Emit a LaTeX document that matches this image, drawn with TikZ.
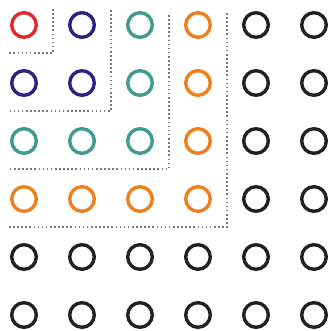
\documentclass[tikz,border=0pt]{standalone}
\usetikzlibrary{calc}
\definecolor{ringred}{HTML}{E0282A}
\definecolor{ringnavy}{HTML}{2B2183}
\definecolor{ringteal}{HTML}{3F9C8C}
\definecolor{ringorange}{HTML}{EE7F1F}
\definecolor{ringblack}{HTML}{231F20}
\definecolor{fence}{HTML}{7A7A7A}
\begin{document}
\begin{tikzpicture}[
    x=1pt, y=-1pt,
    ring/.style={circle, draw=#1, line width=3.4pt, minimum size=24.6pt, inner sep=0pt},
    fenceline/.style={draw=fence, line width=1.7pt, dash pattern=on 1.6pt off 2.5pt},
]
\useasboundingbox (0,0) rectangle (328,331);
\foreach \i in {0,...,5} {
  \foreach \j in {0,...,5} {
    \pgfmathtruncatemacro{\lvl}{max(\i,\j)}
    \ifcase\lvl \def\rc{ringred}\or \def\rc{ringnavy}\or \def\rc{ringteal}\or \def\rc{ringorange}\else \def\rc{ringblack}\fi
    \node[ring=\rc] (r\i\j) at ({24+58*\i},{25+58*\j}) {};
  }
}
% nested boundaries
\foreach \k/\top in {0/9,1/10,2/15,3/13} {
  \coordinate (t\k) at ({53+58*\k},\top);
  \coordinate (c\k) at ({53+58*\k},{53+58*\k});
  \coordinate (l\k) at (8,{53+58*\k});
  \draw[fenceline] (t\k) -- (c\k) -- (l\k);
}
\end{tikzpicture}
\end{document}
